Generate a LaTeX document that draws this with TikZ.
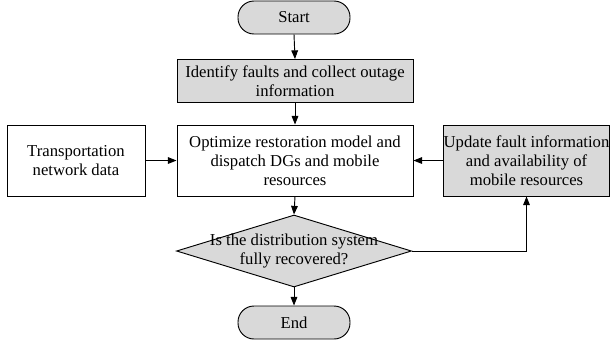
\documentclass[tikz,border=0pt]{standalone}
\usepackage{fontspec}
\setmainfont{Liberation Serif}
\usepackage{tikz}
\usetikzlibrary{arrows.meta, positioning, shapes.geometric}
\definecolor{shd}{RGB}{217, 217, 217}

\begin{document}
\begin{tikzpicture}[
    x=0.75pt, y=-0.75pt,
    >={Triangle[length=6.5pt, width=5pt]},
    box/.style={rectangle, draw=black, fill=#1, line width=0.7pt,
      minimum width=236*0.75pt, align=center,
      font=\fontsize{12.5}{14.3}\selectfont, inner sep=0pt},
    box/.default=white,
    term/.style={rectangle, rounded corners=12pt, draw=black, fill=shd,
      line width=0.7pt, minimum width=112*0.75pt, minimum height=33*0.75pt,
      font=\fontsize{12.5}{14.3}\selectfont},
    dec/.style={diamond, draw=black, fill=shd, line width=0.7pt, aspect=3.26,
      minimum width=235*0.75pt, minimum height=72*0.75pt, inner sep=0pt},
    conn/.style={->, black, line width=0.7pt}
  ]
  \useasboundingbox (0,0) rectangle (611,344);
  \node[term] (start) at (294,17.5) {Start};
  \node[box=shd, minimum height=43*0.75pt] (ident) at (295,81)
    {Identify faults and collect outage\\information};
  \node[box, minimum height=71*0.75pt] (opt) at (295,160.5)
    {Optimize restoration model and\\dispatch DGs and mobile\\resources};
  \node[box, minimum width=138*0.75pt, minimum height=71*0.75pt] (trans) at (76,160.5)
    {Transportation\\network data};
  \node[box=shd, minimum width=165*0.75pt, minimum height=71*0.75pt] (upd) at (526.5,160.5)
    {Update fault information\\and availability of\\mobile resources};
  \node[dec] (chk) at (294,251) {};
  \node[font=\fontsize{12.5}{14.3}\selectfont, align=center] (chktxt) at (chk.center)
    {Is the distribution system\\fully recovered?};
  \node[term] (end) at (294,322.5) {End};
  \foreach \a/\b in {start/ident, ident/opt, opt/chk, chk/end} {
    \draw[conn] (\a.south) -- (\b.north);
  }
  \draw[conn] (trans.east) -- (opt.west);
  \draw[conn] (upd.west) -- (opt.east);
  \draw[conn] (chk.east) -| (upd.south);
\end{tikzpicture}
\end{document}
